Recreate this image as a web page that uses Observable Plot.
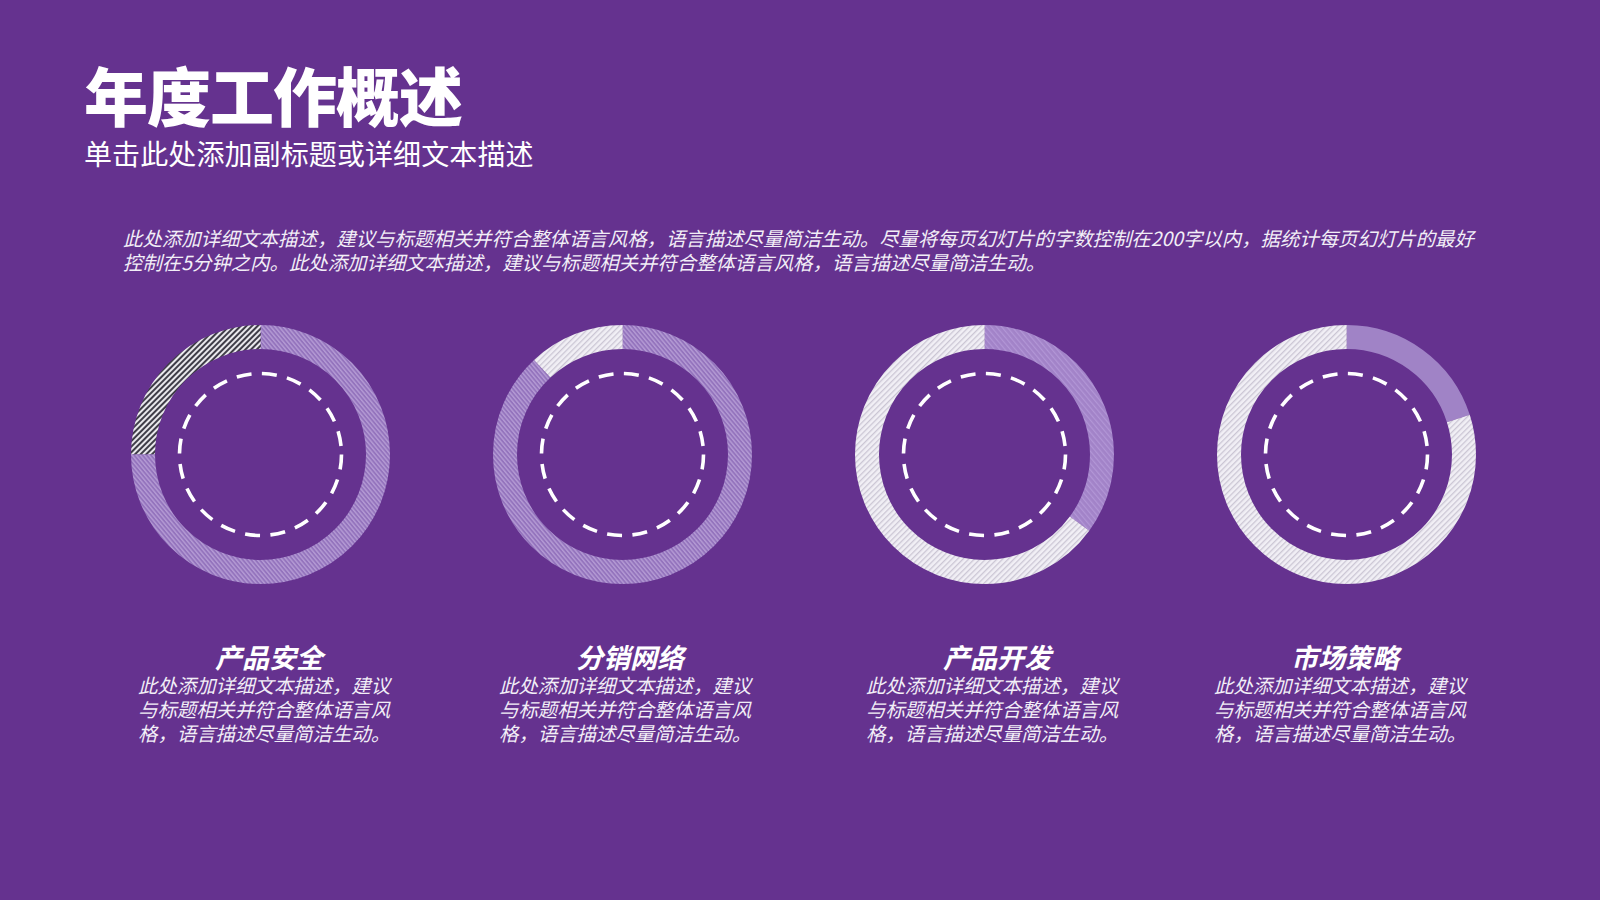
<!DOCTYPE html>
<html>
<head>
<meta charset="utf-8">
<script src="https://cdn.jsdelivr.net/npm/d3@7"></script>
<script src="https://cdn.jsdelivr.net/npm/@observablehq/plot@0.6"></script>
<style>
  html, body { margin: 0; padding: 0; background: #65328f; }
  #page { position: relative; width: 1600px; height: 900px; background: #65328f; overflow: hidden;
          font-family: "Noto Sans CJK SC", "Noto Sans", sans-serif; color: #fff; }
  .abs { position: absolute; white-space: nowrap; }
  #title { left: 84px; top: 61px; font-size: 64px; line-height: 64px; font-weight: 900; letter-spacing: -1px; }
  #subtitle { left: 84px; top: 139px; font-size: 28px; line-height: 28px; font-weight: 400; letter-spacing: 0.1px; }
  #para { left: 123px; top: 226px; font-size: 19.4px; line-height: 23.5px; font-style: italic; color: #f2eef7; letter-spacing: 0px; }
  #chart { position: absolute; left: 0; top: 304px; }
  .block { position: absolute; width: 262px; }
  .block h3 { margin: 0; text-align: center; font-size: 27px; line-height: 28px; font-weight: 700; font-style: italic; height: 28px; }
  .block p { margin: 0; margin-top: 2px; font-size: 19.4px; line-height: 24px; font-style: italic; color: #f2eef7; white-space: nowrap; letter-spacing: 0px; }
</style>
</head>
<body>
<svg width="0" height="0" style="position:absolute">
  <defs>
    <pattern id="hatchPurple" patternUnits="userSpaceOnUse" width="3.2" height="3.2" patternTransform="rotate(-40)">
      <rect width="3.2" height="3.2" fill="#9474bd"/>
      <rect width="1.4" height="3.2" fill="#b49ad4"/>
    </pattern>
    <pattern id="hatchPurpleSoft" patternUnits="userSpaceOnUse" width="4" height="4" patternTransform="rotate(-40)">
      <rect width="4" height="4" fill="#a283c8"/>
      <rect width="1.2" height="4" fill="#b296d6"/>
    </pattern>
    <pattern id="hatchWhite" patternUnits="userSpaceOnUse" width="4" height="4" patternTransform="rotate(45)">
      <rect width="4" height="4" fill="#f1eff5"/>
      <rect width="1.3" height="4" fill="#cbc6d4"/>
    </pattern>
    <pattern id="hatchDark" patternUnits="userSpaceOnUse" width="4" height="4" patternTransform="rotate(45)">
      <rect width="4" height="4" fill="#e9e8ec"/>
      <rect width="2" height="4" fill="#3f3d48"/>
    </pattern>
  </defs>
</svg>
<div id="page">
  <div id="title" class="abs">年度工作概述</div>
  <div id="subtitle" class="abs">单击此处添加副标题或详细文本描述</div>
  <div id="para" class="abs">此处添加详细文本描述，建议与标题相关并符合整体语言风格，语言描述尽量简洁生动。尽量将每页幻灯片的字数控制在200字以内，据统计每页幻灯片的最好<br>控制在5分钟之内。此处添加详细文本描述，建议与标题相关并符合整体语言风格，语言描述尽量简洁生动。</div>
  <div id="chart"></div>
</div>
<script>
// ---- data ----
const categories = ["产品安全", "分销网络", "产品开发", "市场策略"];
const mainShare = [75, 88, 35, 20];          // % of ring drawn first (clockwise from 12 o'clock)
const restShare = [25, 12, 65, 80];          // % of ring drawn after it
const descLines = ["此处添加详细文本描述，建议", "与标题相关并符合整体语言风", "格，语言描述尽量简洁生动。"];

// ---- styles (not data) ----
const mainFill = ["url(#hatchPurple)", "url(#hatchPurple)", "url(#hatchPurpleSoft)", "#a083c6"];
const restFill = ["url(#hatchDark)", "url(#hatchWhite)", "url(#hatchWhite)", "url(#hatchWhite)"];
const blockCenters = [269, 630, 997, 1345];

const segments = [];
categories.forEach((c, i) => {
  segments.push({category: c, start: 0, value: mainShare[i], fill: mainFill[i]});
  segments.push({category: c, start: mainShare[i], value: restShare[i], fill: restFill[i]});
});

const R = 117.5;                 // ring mid radius (px)
const C = 2 * Math.PI * R;

const ringMarks = segments.map(s => {
  const L = (s.value / 100) * C;
  return Plot.dot([s], {
    x: "category",
    r: R,
    fill: "none",
    stroke: s.fill,
    strokeWidth: 24,
    strokeDasharray: `${L} ${C - L}`,
    strokeDashoffset: C / 4 - (s.start / 100) * C
  });
});

const plot = Plot.plot({
  width: 1600,
  height: 300,
  margin: 0,
  style: {background: "transparent", overflow: "visible"},
  x: {type: "point", domain: categories, range: [259, 1347], padding: 0, axis: null},
  marks: [
    ...ringMarks,
    Plot.dot(categories, {x: d => d, r: 81, fill: "none", stroke: "white", strokeWidth: 3.6, strokeDasharray: "15 10.5"})
  ]
});
document.getElementById("chart").appendChild(plot);

// ---- labels ----
const page = document.getElementById("page");
categories.forEach((c, i) => {
  const div = document.createElement("div");
  div.className = "block";
  div.style.left = (blockCenters[i] - 131) + "px";
  div.style.top = "643px";
  const h = document.createElement("h3");
  h.textContent = c;
  const p = document.createElement("p");
  p.innerHTML = descLines.join("<br>");
  div.appendChild(h);
  div.appendChild(p);
  page.appendChild(div);
});
</script>
</body>
</html>
